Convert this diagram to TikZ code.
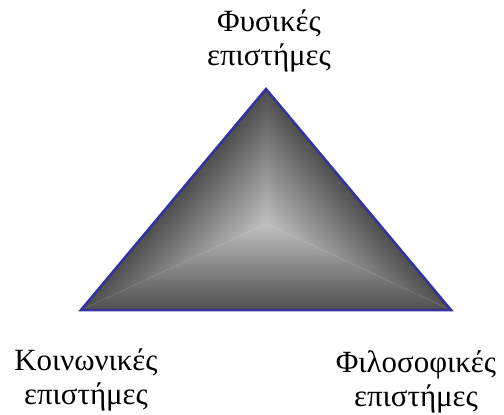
\documentclass[tikz,border=0pt]{standalone}
\usepackage{fontspec}
\setmainfont{Liberation Serif}
\usetikzlibrary{positioning}
\definecolor{pyrdark}{RGB}{78,78,78}
\definecolor{pyrmid}{RGB}{145,145,145}
\definecolor{pyrlight}{RGB}{192,192,192}
\definecolor{pyredge}{RGB}{51,51,160}
\tikzset{
  sci/.style={align=center, font=\fontsize{31}{34}\selectfont, inner sep=0pt}, % the three labels
  rim/.style={draw=pyredge, line width=2.5bp, line join=miter},
}

\begin{document}
\begin{tikzpicture}[x=1bp, y=1bp]
  \useasboundingbox (0,0) rectangle (504,414);
  \coordinate (top) at (266,325);
  \coordinate (left) at (81,104);
  \coordinate (right) at (451,104);
  \coordinate (mid) at (266,190.4); % incenter

  % three faces, each shaded from its rim towards the middle
  \foreach \p/\q/\ang in {left/right/0, right/top/129.93, top/left/230.07} {
    \begin{scope}
      \clip (mid) -- (\p) -- (\q) -- cycle;
      \begin{scope}[transform canvas={shift={(\p)}, rotate=\ang}]
        \shade[bottom color=pyrdark, middle color=pyrmid, top color=pyrlight]
          (-20,0) rectangle (400,86.4);
      \end{scope}
    \end{scope}
  }
  \draw[rim] (top) -- (left) -- (right) -- cycle;

  \node[sci, above=17bp of top, xshift=3bp] (phys) {Φυσικές\\επιστήμες};
  \node[sci, below=39bp of left, xshift=5bp] (soc) {Κοινωνικές\\επιστήμες};
  \node[sci, below=41bp of right, xshift=-35bp] (phil) {Φιλοσοφικές\\επιστήμες};
\end{tikzpicture}
\end{document}
